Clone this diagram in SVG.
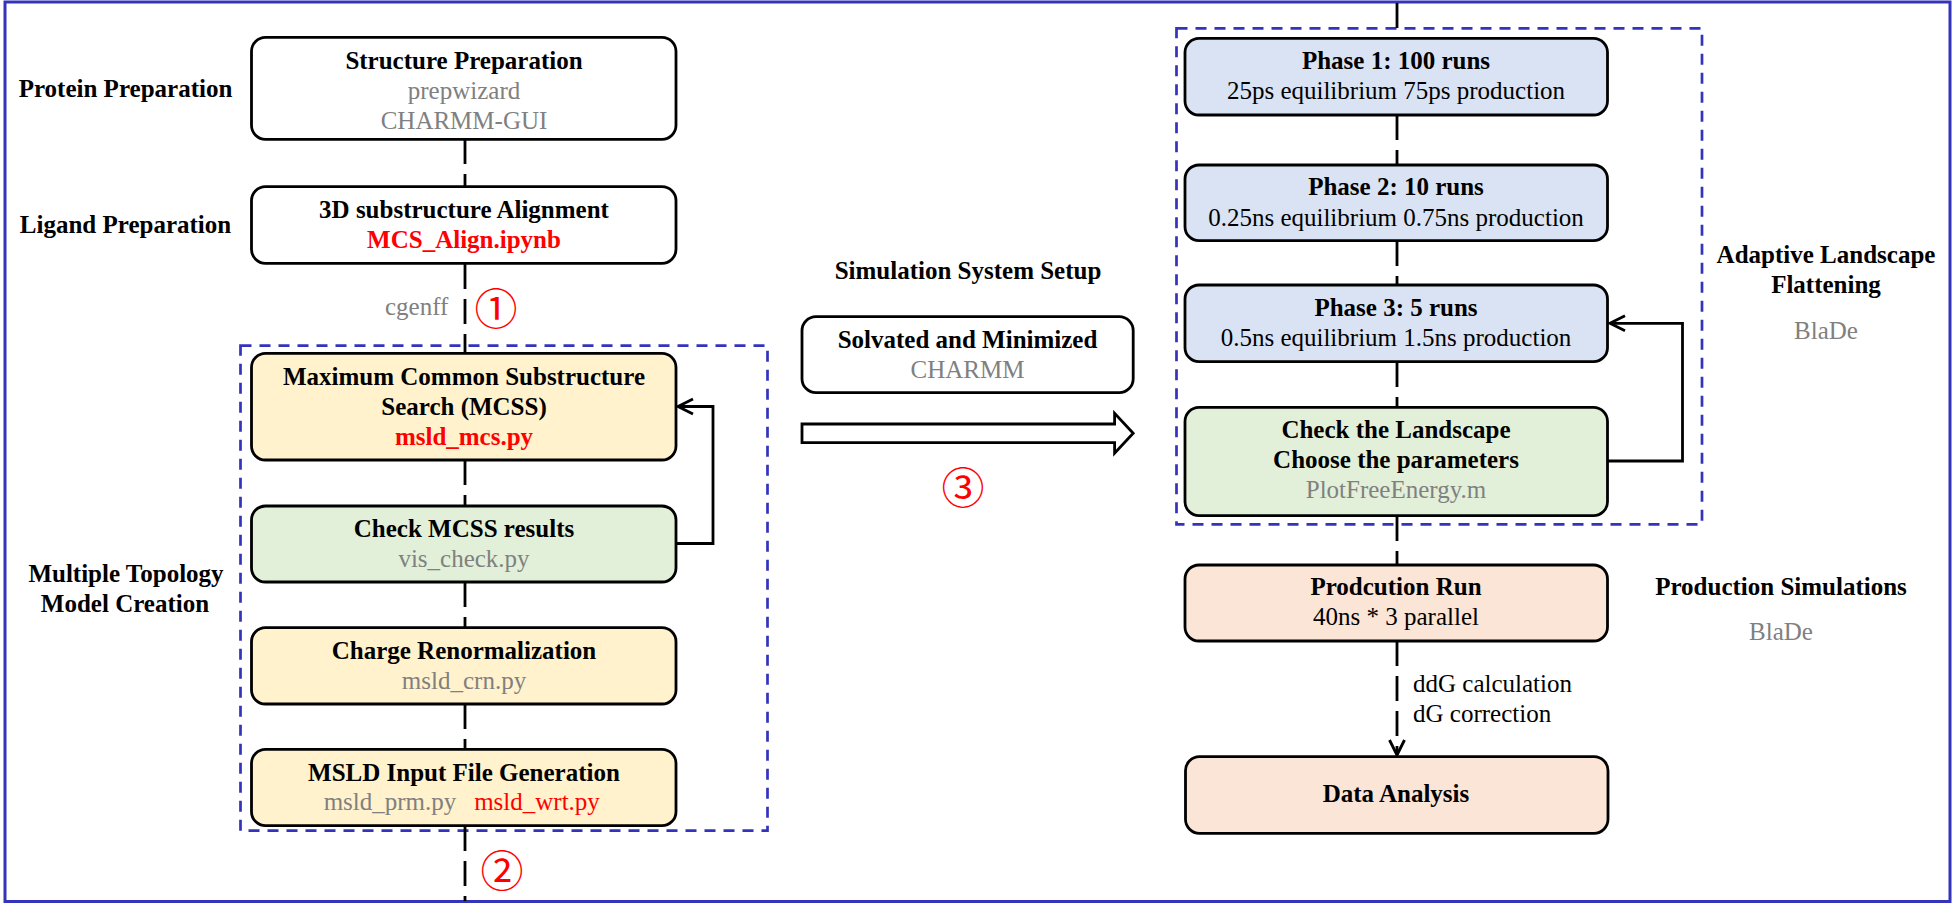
<svg xmlns="http://www.w3.org/2000/svg" width="1955" height="905" viewBox="0 0 1955 905">
<style>
text{font-family:"Liberation Serif","Times New Roman",serif;font-size:25px;text-anchor:middle;fill:#000}
.b{font-weight:bold}
.g{fill:#808080}
.r{fill:#FF0000}
.c{font-family:"Liberation Serif","Noto Sans CJK SC",sans-serif;font-size:43px;fill:#FF0000}
.l{text-anchor:start}
.box{stroke:#000;stroke-width:2.8}
.w{fill:#FFFFFF}.y{fill:#FFF2CC}.gr{fill:#E2F0D9}.bl{fill:#DAE3F3}.o{fill:#FBE5D6}
.grp{fill:none;stroke:#3333BB;stroke-width:2.7;stroke-dasharray:11 8}
.dl{fill:none;stroke:#000;stroke-width:2.8;stroke-dasharray:25 10}
.sl{fill:none;stroke:#000;stroke-width:2.8}
</style>
<defs>
<marker id="ah" markerWidth="20" markerHeight="20" refX="16" refY="8" orient="auto" markerUnits="userSpaceOnUse" viewBox="0 0 20 16">
<path d="M1,0.5 L16,8 L1,15.5" fill="none" stroke="#000" stroke-width="2.8"/>
</marker>
</defs>
<rect x="5" y="2" width="1945" height="899.5" fill="#FFFFFF" stroke="#3333BB" stroke-width="3"/>

<g id="groups">
<rect class="grp" x="240.5" y="345.7" width="527" height="485"/>
<rect class="grp" x="1176.5" y="28.3" width="525.5" height="496"/>
</g>

<g id="labels">
<text class="b" x="125.5" y="97">Protein Preparation</text>
<text class="b" x="125.5" y="233">Ligand Preparation</text>
<text class="b" x="126" y="582">Multiple Topology</text>
<text class="b" x="125" y="612">Model Creation</text>
<text class="b" x="968" y="279">Simulation System Setup</text>
<text class="b" x="1826" y="263">Adaptive Landscape</text>
<text class="b" x="1826" y="293">Flattening</text>
<text class="g" x="1826" y="339">BlaDe</text>
<text class="b" x="1781" y="595">Production Simulations</text>
<text class="g" x="1781" y="640">BlaDe</text>
</g>

<g id="connectors">
<line class="dl" x1="465" y1="139" x2="465" y2="187"/>
<line class="dl" x1="465" y1="264" x2="465" y2="353"/>
<line class="dl" x1="465" y1="460" x2="465" y2="506"/>
<line class="dl" x1="465" y1="582" x2="465" y2="628"/>
<line class="dl" x1="465" y1="704" x2="465" y2="749"/>
<line class="dl" x1="465" y1="826" x2="465" y2="901"/>
<polyline class="sl" points="676,543.5 713,543.5 713,406.5 678,406.5" marker-end="url(#ah)"/>
<line class="dl" x1="1397" y1="3" x2="1397" y2="38" stroke-dasharray="25 8"/>
<line class="dl" x1="1397" y1="115" x2="1397" y2="165"/>
<line class="dl" x1="1397" y1="241" x2="1397" y2="285"/>
<line class="dl" x1="1397" y1="362" x2="1397" y2="407"/>
<line class="dl" x1="1397" y1="516" x2="1397" y2="565"/>
<line class="dl" x1="1397" y1="641" x2="1397" y2="755" stroke-dasharray="3 10 24 10 24 10 24 10 40" marker-end="url(#ah)"/>
<polyline class="sl" points="1607.5,461 1682.5,461 1682.5,323.3 1610,323.3" marker-end="url(#ah)"/>
<polygon points="802,424 1114.6,424 1114.6,413.3 1133.2,433.3 1114.6,453.3 1114.6,442.7 802,442.7" fill="#FFFFFF" stroke="#000" stroke-width="2.8"/>
<text class="g l" x="385" y="315">cgenff</text>
<text class="c" x="496" y="325">①</text>
<text class="c" x="502" y="887">②</text>
<text class="c" x="963" y="504">③</text>
<text class="l" x="1413" y="692">ddG calculation</text>
<text class="l" x="1413" y="722">dG correction</text>
</g>

<g id="n-structure">
<rect class="box w" x="251.5" y="37.3" width="424.5" height="102" rx="14"/>
<text class="b" x="464" y="68.5">Structure Preparation</text>
<text class="g" x="464" y="99">prepwizard</text>
<text class="g" x="464" y="128.5">CHARMM-GUI</text>
</g>
<g id="n-align">
<rect class="box w" x="251.5" y="186.7" width="424.5" height="76.6" rx="14"/>
<text class="b" x="464" y="218">3D substructure Alignment</text>
<text class="b r" x="464" y="248">MCS_Align.ipynb</text>
</g>
<g id="n-mcss">
<rect class="box y" x="251.5" y="353.3" width="424.5" height="106.7" rx="14"/>
<text class="b" x="464" y="385">Maximum Common Substructure</text>
<text class="b" x="464" y="415">Search (MCSS)</text>
<text class="b r" x="464" y="445">msld_mcs.py</text>
</g>
<g id="n-check">
<rect class="box gr" x="251.5" y="506" width="424.5" height="76" rx="14"/>
<text class="b" x="464" y="537">Check MCSS results</text>
<text class="g" x="464" y="567">vis_check.py</text>
</g>
<g id="n-charge">
<rect class="box y" x="251.5" y="627.7" width="424.5" height="76.3" rx="14"/>
<text class="b" x="464" y="659">Charge Renormalization</text>
<text class="g" x="464" y="689">msld_crn.py</text>
</g>
<g id="n-msld">
<rect class="box y" x="251.5" y="749.3" width="424.5" height="76.4" rx="14"/>
<text class="b" x="464" y="781">MSLD Input File Generation</text>
<text class="g" x="390" y="810">msld_prm.py</text>
<text class="r" x="537" y="810">msld_wrt.py</text>
</g>
<g id="n-solvated">
<rect class="box w" x="802" y="316.7" width="331.2" height="76" rx="14"/>
<text class="b" x="967.5" y="347.5">Solvated and Minimized</text>
<text class="g" x="967.5" y="377.5">CHARMM</text>
</g>
<g id="n-phase1">
<rect class="box bl" x="1185" y="38.3" width="422.5" height="76.7" rx="14"/>
<text class="b" x="1396" y="69">Phase 1: 100 runs</text>
<text x="1396" y="99">25ps equilibrium 75ps production</text>
</g>
<g id="n-phase2">
<rect class="box bl" x="1185" y="165" width="422.5" height="75.7" rx="14"/>
<text class="b" x="1396" y="195">Phase 2: 10 runs</text>
<text x="1396" y="225.7">0.25ns equilibrium 0.75ns production</text>
</g>
<g id="n-phase3">
<rect class="box bl" x="1185" y="285" width="422.5" height="76.7" rx="14"/>
<text class="b" x="1396" y="316">Phase 3: 5 runs</text>
<text x="1396" y="346">0.5ns equilibrium 1.5ns production</text>
</g>
<g id="n-landscape">
<rect class="box gr" x="1185" y="407.3" width="422.5" height="108.4" rx="14"/>
<text class="b" x="1396" y="438.3">Check the Landscape</text>
<text class="b" x="1396" y="468.3">Choose the parameters</text>
<text class="g" x="1396" y="498.3">PlotFreeEnergy.m</text>
</g>
<g id="n-production">
<rect class="box o" x="1185" y="565" width="422.5" height="76" rx="14"/>
<text class="b" x="1396" y="595">Prodcution Run</text>
<text x="1396" y="625">40ns * 3 parallel</text>
</g>
<g id="n-analysis">
<rect class="box o" x="1185.5" y="756.7" width="422.5" height="76.6" rx="14"/>
<text class="b" x="1396" y="801.7">Data Analysis</text>
</g>
</svg>
